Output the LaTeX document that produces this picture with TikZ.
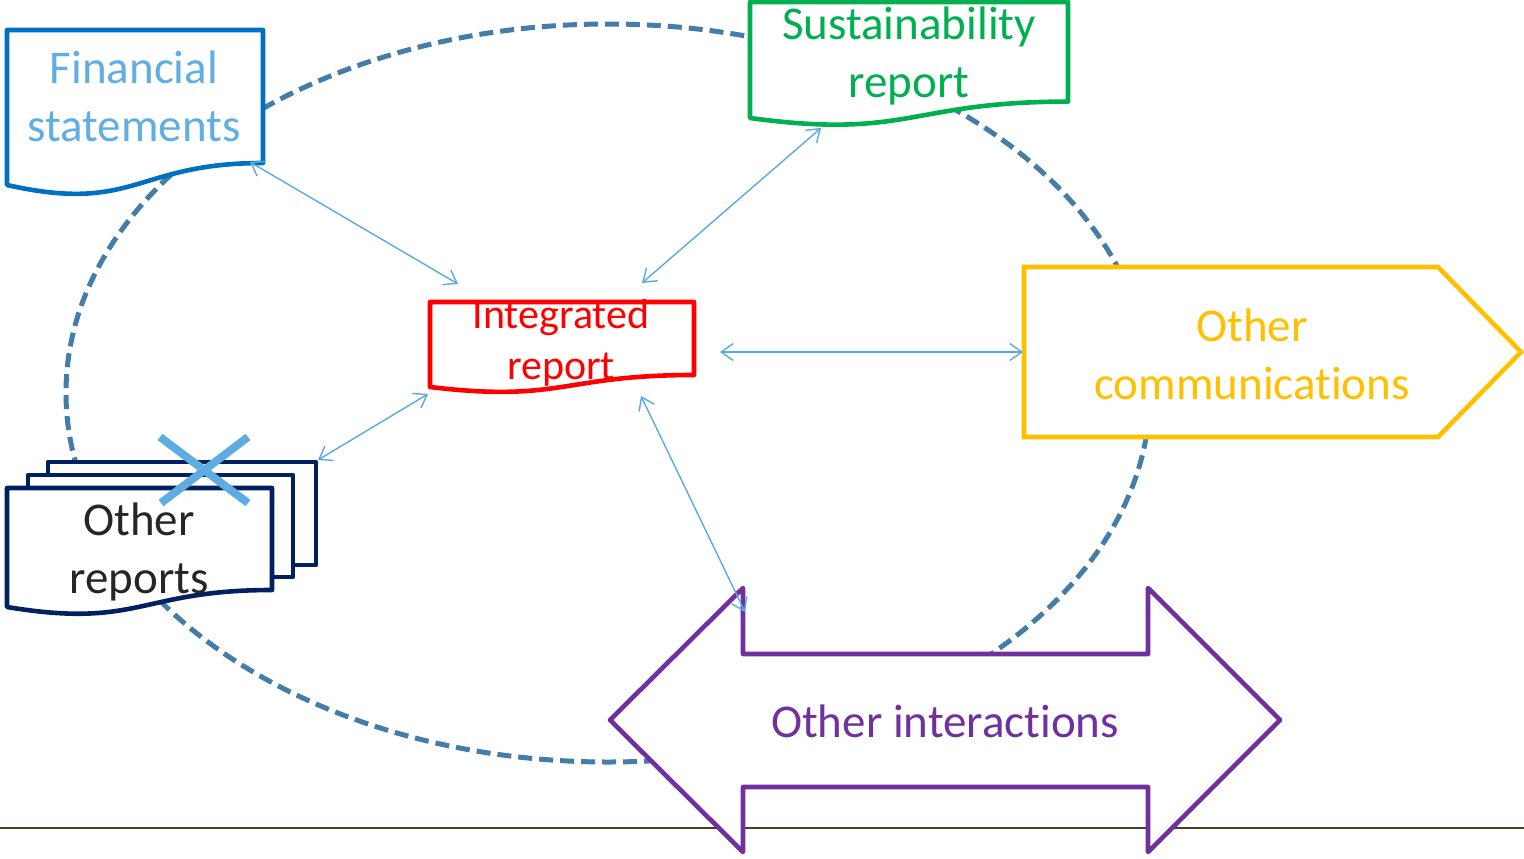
\documentclass[tikz,border=0pt]{standalone}
\usepackage{fontspec}
\setmainfont{Carlito}[Ligatures={NoCommon,NoContextual,NoRare}]
\usetikzlibrary{arrows.meta}
\definecolor{fsblue}{RGB}{0,112,192}
\definecolor{fstext}{RGB}{97,174,228}
\definecolor{srgreen}{RGB}{0,176,80}
\definecolor{irred}{RGB}{255,0,0}
\definecolor{ocyellow}{RGB}{255,192,0}
\definecolor{oipurple}{RGB}{112,48,160}
\definecolor{ornavy}{RGB}{0,32,96}
\definecolor{ortext}{RGB}{38,38,38}
\definecolor{ringblue}{RGB}{68,125,168}
\definecolor{linkblue}{RGB}{90,170,226}
\definecolor{crossblue}{RGB}{93,173,226}
\definecolor{rulebrown}{RGB}{82,58,32}
\begin{document}
\begin{tikzpicture}[x=1bp,y=-1bp,
  doc/.style={line width=4.6bp, fill=white, line join=round},
  big/.style={font=\fontsize{47bp}{58bp}\selectfont, align=center, inner sep=0pt},
  mid/.style={font=\fontsize{42bp}{51bp}\selectfont, align=center, inner sep=0pt},
  link/.style={draw=linkblue, line width=1.4bp, {Straight Barb[length=12bp,width=17bp]}-{Straight Barb[length=12bp,width=17bp]}},
  ring/.style={draw=ringblue, line width=5bp, dash pattern=on 14bp off 7bp}]
\useasboundingbox (0,0) rectangle (1524,858);
% dashed ring
\draw[ring] (608,393) ellipse [x radius=542, y radius=369];
% bottom rule
\coordinate (ruleL) at (0,828);
\coordinate (ruleR) at (1524,828);
\draw[line width=2bp, rulebrown] (ruleL) -- (ruleR);
% Financial statements
\draw[doc, draw=fsblue] (7,30) -- (263,30) -- (263,163) .. controls (135,163) and (135,213.8) .. (7,185) -- cycle;
\node[big, text=fstext] (fs) at (134,96) {Financial\\statements};
% Sustainability report
\draw[doc, draw=srgreen] (750,2) -- (1068,2) -- (1068,101.6) .. controls (909,101.6) and (909,139.6) .. (750,118) -- cycle;
\node[big, text=srgreen] (sr) at (909,56) {Sustainability\\report};
% Integrated report
\draw[doc, draw=irred] (430,302) -- (694,302) -- (694,375) .. controls (562,375) and (562,402.8) .. (430,387) -- cycle;
\node[mid, text=irred] (ir) at (561,343) {Integrated\\report};
% Other communications
\draw[doc, draw=ocyellow, line join=miter] (1024,267) -- (1438,267) -- (1521,352) -- (1438,437) -- (1024,437) -- cycle;
\node[big, text=ocyellow] (oc) at (1252,354) {Other\\communications};
% Other interactions
\draw[doc, draw=oipurple] (610,720) -- (743,588) -- (743,654) -- (1148,654) -- (1148,588) -- (1280,720) -- (1148,852) -- (1148,787) -- (743,787) -- (743,852) -- cycle;
\node[big, text=oipurple] (oi) at (945,721) {Other interactions};
% Other reports
\draw[doc, draw=ornavy] (48,462) rectangle (316,565);
\draw[doc, draw=ornavy] (28,475) rectangle (293,577);
\draw[doc, draw=ornavy] (7,488) -- (272,488) -- (272,590) .. controls (139.5,590) and (139.5,629) .. (7,607) -- cycle;
\node[big, text=ortext] (or) at (139,552) {Other\\reports};
% cross
\coordinate (xa) at (160,437);
\coordinate (xb) at (248,503);
\coordinate (xc) at (161,503);
\coordinate (xd) at (248,437);
\draw[line width=8bp, crossblue] (xa) -- (xb) (xc) -- (xd);
% links
\coordinate (fsA) at (250,162);
\coordinate (irA) at (458,284);
\coordinate (srA) at (821,128);
\coordinate (irB) at (642,283);
\coordinate (irC) at (720,352);
\coordinate (ocA) at (1023,352);
\coordinate (orA) at (318,460);
\coordinate (irD) at (428,394);
\coordinate (irE) at (641,396);
\coordinate (oiA) at (745,612);
\draw[link] (fsA) -- (irA);
\draw[link] (srA) -- (irB);
\draw[link] (irC) -- (ocA);
\draw[link] (orA) -- (irD);
\draw[link] (irE) -- (oiA);
\end{tikzpicture}
\end{document}
